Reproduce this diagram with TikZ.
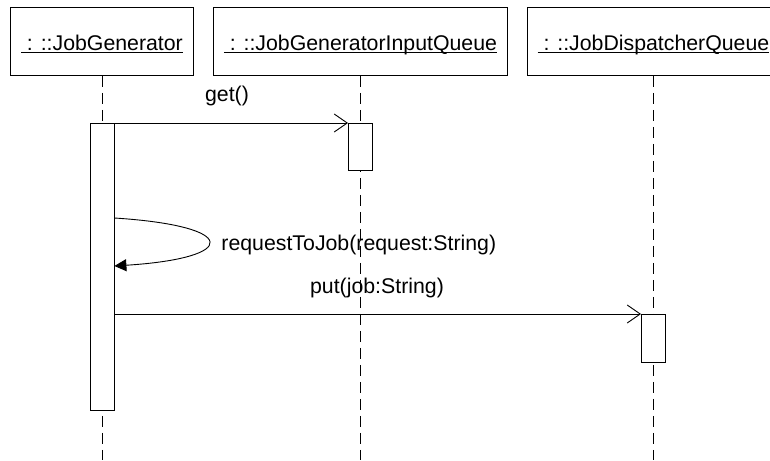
\documentclass[tikz,border=0pt]{standalone}
\usepackage{fontspec}
\setmainfont{Liberation Sans}
\usetikzlibrary{arrows.meta}
\newcommand{\myul}[1]{\setbox0\hbox{#1}\rlap{\rule[-2.8pt]{\wd0}{0.9pt}}\box0}
\begin{document}
\begin{tikzpicture}[x=1pt,y=-1pt,line width=0.9pt,
  obj/.style={draw,minimum height=68pt,inner sep=0pt,anchor=north west,
    text height=24pt,text depth=6pt,font=\fontsize{21.3}{25}\selectfont},
  act/.style={draw,fill=white,minimum width=24pt,inner sep=0pt,anchor=north},
  life/.style={dash pattern=on 11pt off 6pt},
  lbl/.style={font=\fontsize{21.3}{25}\selectfont,inner sep=0pt},
  msg/.style={-{Straight Barb[length=13pt,width=18pt]}},
  selfmsg/.style={-{Triangle[length=12pt,width=12pt]}}]
\useasboundingbox (0,0) rectangle (770,460);
% objects
\node[obj,minimum width=183pt] (o1) at (10,7) {\myul{\ : ::JobGenerator}};
\node[obj,minimum width=294pt] (o2) at (213,7) {\myul{\ : ::JobGeneratorInputQueue}};
\node[obj,minimum width=252pt] (o3) at (527,7) {\myul{\ : ::JobDispatcherQueue}};
% lifeline ends
\coordinate (e1) at (o1.south |- 0,460);
\coordinate (e2) at (o2.south |- 0,460);
\coordinate (e3) at (o3.south |- 0,460);
\draw[life] (o1.south) -- (e1);
\draw[life] (o2.south) -- (e2);
\draw[life] (o3.south) -- (e3);
% activations
\node[act,minimum height=287pt] (a1) at (o1.south |- 0,123) {};
\node[act,minimum height=47pt] (a2) at (o2.south |- 0,123) {};
\node[act,minimum height=48pt] (a3) at (o3.south |- 0,314) {};
% messages
\draw[msg] (a1.north east) -- (a2.north west);
\node[lbl,anchor=base] (m1) at (227,101) {get()};
\coordinate (s1) at (a1.east |- 0,218);
\coordinate (s2) at (a1.east |- 0,266);
\draw[selfmsg] (s1) .. controls (240,226) and (240,258) .. (s2);
\node[lbl,anchor=base west] (m2) at (221,250) {requestToJob(request:String)};
\draw[msg] (a1.east |- a3.north) -- (a3.north west);
\node[lbl,anchor=base] (m3) at (377,293) {put(job:String)};
\end{tikzpicture}
\end{document}
